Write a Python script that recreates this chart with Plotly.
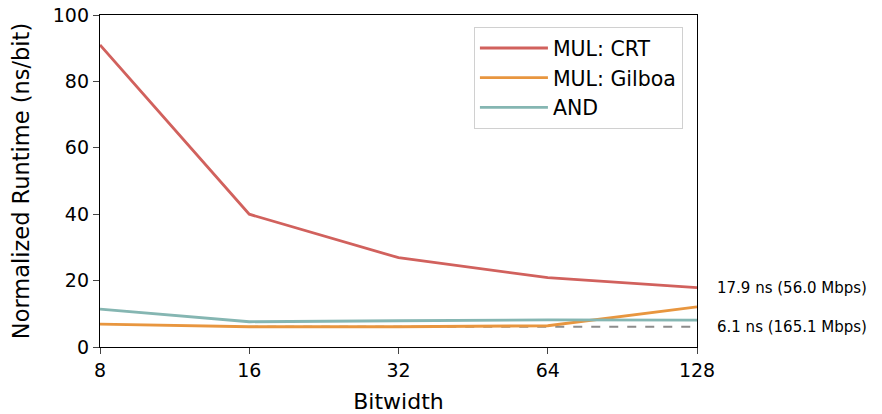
import plotly.graph_objects as go

bitwidth = [8, 16, 32, 64, 128]
tick_labels = ["8", "16", "32", "64", "128"]
mul_crt = [91.0, 40.0, 26.9, 20.9, 17.9]
mul_gilboa = [6.9, 6.1, 6.1, 6.4, 12.1]
and_vals = [11.4, 7.6, 7.9, 8.2, 8.1]
ref_level = 6.1
ref_span = [16, 128]
annot_texts = ["17.9 ns (56.0 Mbps)", "6.1 ns (165.1 Mbps)"]
annot_y = [17.9, 6.1]

FONT = "DejaVu Sans"
fig = go.Figure()
fig.add_trace(go.Scatter(x=ref_span, y=[ref_level, ref_level], mode="lines",
                         line=dict(color="#8c8c8c", width=1.8, dash="dash"), showlegend=False))
fig.add_trace(go.Scatter(x=bitwidth, y=mul_crt, mode="lines", name="MUL: CRT",
                         line=dict(color="#d1615d", width=2.8)))
fig.add_trace(go.Scatter(x=bitwidth, y=mul_gilboa, mode="lines", name="MUL: Gilboa",
                         line=dict(color="#e8963f", width=2.8)))
fig.add_trace(go.Scatter(x=bitwidth, y=and_vals, mode="lines", name="AND",
                         line=dict(color="#85b6b2", width=2.8)))

for t, yv in zip(annot_texts, annot_y):
    fig.add_annotation(x=1.0, xref="paper", y=yv, yref="y", text=t, showarrow=False,
                       xanchor="left", xshift=18, font=dict(family=FONT, size=15, color="black"))

fig.update_layout(
    width=882, height=414,
    margin=dict(l=100, r=185, t=15, b=67, autoexpand=False),
    plot_bgcolor="white", paper_bgcolor="white",
    font=dict(family=FONT, size=19, color="black"),
    legend=dict(x=0.626, y=0.964, xanchor="left", yanchor="top",
                bordercolor="#d0d0d0", borderwidth=1.2, bgcolor="rgba(255,255,255,0.9)",
                font=dict(size=20.5), tracegroupgap=0, itemwidth=68),
    xaxis=dict(type="log", tickvals=bitwidth, ticktext=tick_labels, automargin=False,
               range=[0.90309, 2.10721], showgrid=False, zeroline=False,
               showline=True, linecolor="black", linewidth=1.3, mirror=True,
               ticks="outside", ticklen=6, tickwidth=1.2,
               title=dict(text="Bitwidth", standoff=14, font=dict(size=22))),
    yaxis=dict(range=[0, 100], tickvals=[0, 20, 40, 60, 80, 100], showgrid=False, zeroline=False,
               automargin=False,
               showline=True, linecolor="black", linewidth=1.3, mirror=True,
               ticks="outside", ticklen=6, tickwidth=1.2,
               title=dict(text="Normalized Runtime (ns/bit)", standoff=16, font=dict(size=22.5))),
)
fig.write_html("out.html")
